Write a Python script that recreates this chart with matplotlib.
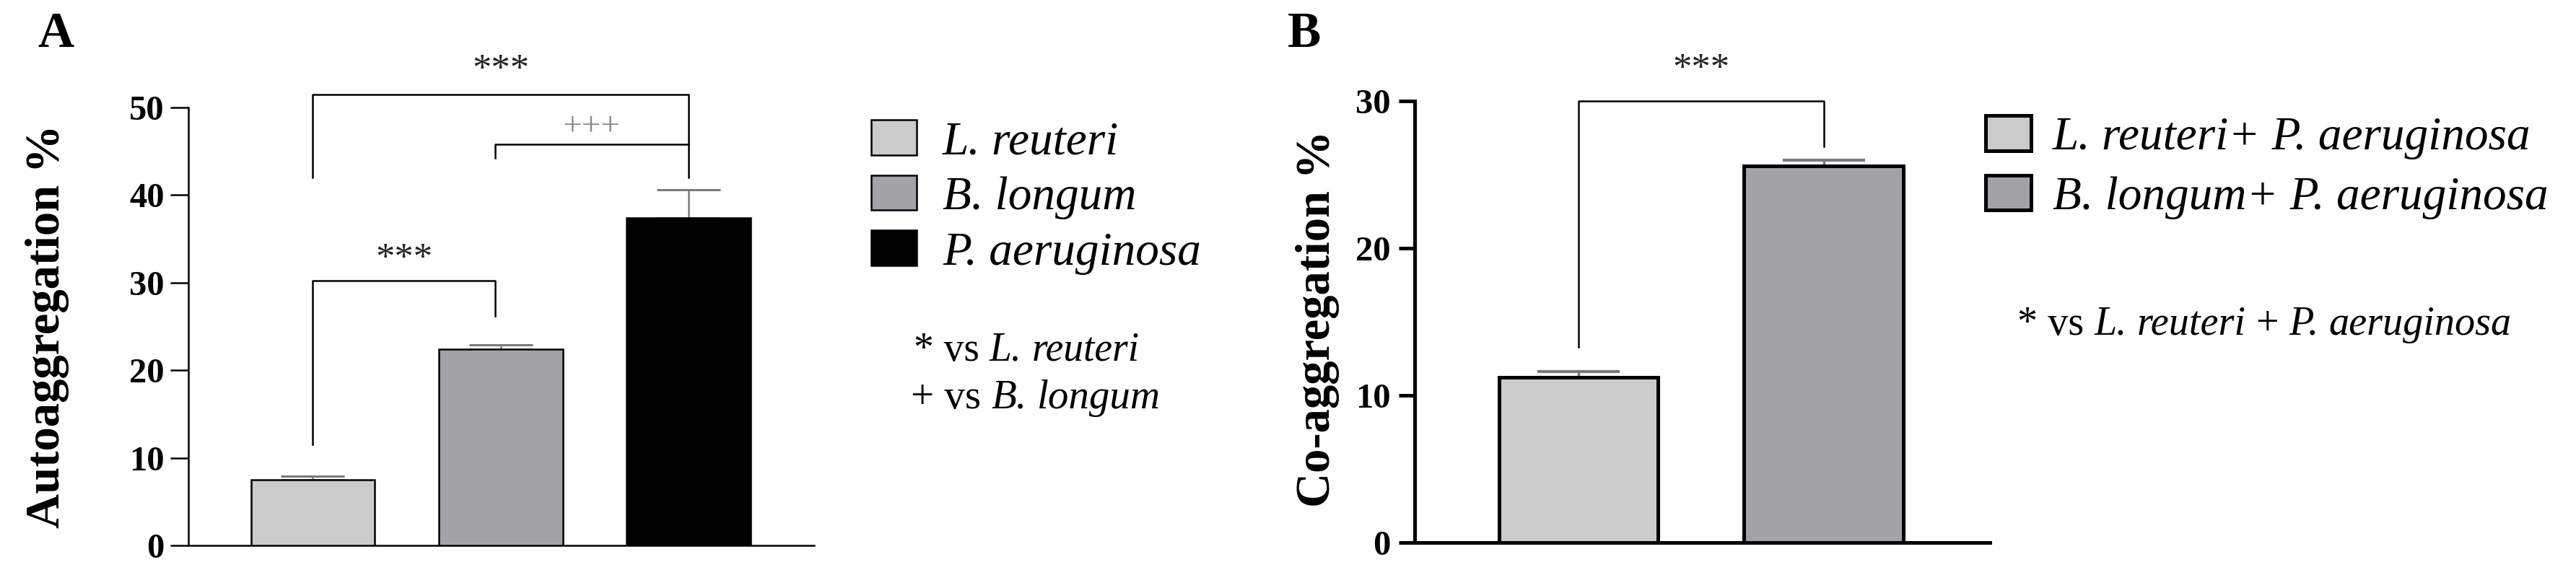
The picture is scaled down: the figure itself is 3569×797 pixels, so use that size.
import matplotlib
matplotlib.use('Agg')
import matplotlib.pyplot as plt
from matplotlib.offsetbox import TextArea, HPacker, AnchoredOffsetbox
import numpy as np

plt.rcParams['font.family'] = ['Liberation Serif', 'DejaVu Serif']

# panel A: autoaggregation
auto_labels = ["L. reuteri", "B. longum", "P. aeruginosa"]
auto_mean = [7.5, 22.4, 37.4]
auto_err = [0.4, 0.5, 3.2]
auto_colors = ["#cbcbcb", "#a3a2a7", "#000000"]

# panel B: co-aggregation
coag_labels = ["L. reuteri+ P. aeruginosa", "B. longum+ P. aeruginosa"]
coag_mean = [11.2, 25.6]
coag_err = [0.4, 0.4]
coag_colors = ["#cbcbcb", "#a3a2a7"]

# significance footnotes: (text, italic)
noteA1 = [("* vs", False), ("L.", True), ("reuteri", True)]
noteA2 = [("+ vs", False), ("B.", True), ("longum", True)]
noteB = [("* vs", False), ("L.", True), ("reuteri", True), ("+", False), ("P.", True), ("aeruginosa", True)]

W, H = 3569, 797
fig = plt.figure(figsize=(W / 100, H / 100), dpi=100)

def bracket(ax, x1, x2, y, y1, y2, text, tcolor, ty, lw, fs):
	ax.plot([x1, x1, x2, x2], [y1, y, y, y2], color="black", lw=lw, clip_on=False, zorder=4)
	ax.text((x1 + x2) / 2, ty, text, ha="center", va="center", fontsize=fs, color=tcolor, clip_on=False)

def mixed_text(x, y_bottom, pieces, size):
	boxes = [TextArea(s, textprops=dict(fontsize=size, fontstyle="italic" if it else "normal")) for s, it in pieces]
	pack = HPacker(children=boxes, align="baseline", pad=0, sep=size * 0.25)
	box = AnchoredOffsetbox(loc="lower left", child=pack, pad=0, borderpad=0, frameon=False,
		bbox_to_anchor=(x / W, 1 - y_bottom / H), bbox_transform=fig.transFigure)
	fig.add_artist(box)

# ---------------- A ----------------
axA = fig.add_axes([0.0731, 0.0514, 0.2430, 0.7616])
xA = np.arange(len(auto_mean))
barsA = axA.bar(xA, auto_mean, width=0.66, color=auto_colors, edgecolor="black", linewidth=1.8, zorder=3)
axA.errorbar(xA, auto_mean, yerr=[np.zeros(len(auto_err)), auto_err], fmt="none",
	ecolor="#7a7a7a", elinewidth=1.8, capsize=32, capthick=2.2, zorder=2)
axA.set_xlim(-0.663, 2.669)
axA.set_ylim(0, 50)
axA.set_yticks([0, 10, 20, 30, 40, 50])
axA.set_xticks([])
for s in ["top", "right"]:
	axA.spines[s].set_visible(False)
for s in ["left", "bottom"]:
	axA.spines[s].set_linewidth(1.8)
axA.tick_params(axis="y", length=18, width=1.8, pad=6, labelsize=35)
for t in axA.get_yticklabels():
	t.set_fontweight("bold")

bracket(axA, 0, 2, 51.5, 42.0, 42.0, "***", "#222222", 54.2, 1.8, 38)
bracket(axA, 0.97, 2, 45.8, 44.2, 45.8, "+++", "#888888", 47.8, 1.8, 34)
bracket(axA, 0, 0.97, 30.2, 11.5, 26.2, "***", "#222222", 32.6, 1.8, 38)

fig.text(66 / W, 1 - 452 / H, "Autoaggregation %", rotation=90, ha="center", va="center",
	fontsize=48, fontweight="bold")
fig.text(77 / W, 1 - 48 / H, "A", ha="center", va="center", fontsize=50, fontweight="bold")

axA.legend(barsA, auto_labels, loc="upper left", bbox_to_anchor=(1207 / W, 1 - 166 / H),
	bbox_transform=fig.transFigure, frameon=False, prop={"style": "italic", "size": 47},
	handlelength=0.97, handleheight=0.77, handletextpad=0.55, labelspacing=0.24, borderpad=0, borderaxespad=0)

mixed_text(1266, 512, noteA1, 40)
mixed_text(1262, 578, noteA2, 41)

# ---------------- B ----------------
axB = fig.add_axes([0.5492, 0.0565, 0.2233, 0.7679])
xB = np.arange(len(coag_mean))
barsB = axB.bar(xB, coag_mean, width=0.65, color=coag_colors, edgecolor="black", linewidth=3.6, zorder=3)
axB.errorbar(xB, coag_mean, yerr=[np.zeros(len(coag_err)), coag_err], fmt="none",
	ecolor="#7a7a7a", elinewidth=2.5, capsize=41, capthick=3.0, zorder=2)
axB.set_xlim(-0.669, 1.679)
axB.set_ylim(0, 30)
axB.set_yticks([0, 10, 20, 30])
axB.set_xticks([])
for s in ["top", "right"]:
	axB.spines[s].set_visible(False)
for s in ["left", "bottom"]:
	axB.spines[s].set_linewidth(3.6)
axB.tick_params(axis="y", length=16, width=3.6, pad=8, labelsize=35)
for t in axB.get_yticklabels():
	t.set_fontweight("bold")

bracket(axB, 0, 1, 30.0, 13.3, 26.9, "***", "#222222", 32.1, 1.8, 38)

fig.text(1826 / W, 1 - 442 / H, "Co-aggregation %", rotation=90, ha="center", va="center",
	fontsize=48, fontweight="bold")
fig.text(1807 / W, 1 - 48 / H, "B", ha="center", va="center", fontsize=50, fontweight="bold")

axB.legend(barsB, coag_labels, loc="upper left", bbox_to_anchor=(2751 / W, 1 - 160 / H),
	bbox_transform=fig.transFigure, frameon=False, prop={"style": "italic", "size": 47},
	handlelength=0.97, handleheight=0.77, handletextpad=0.45, labelspacing=0.33, borderpad=0, borderaxespad=0)

mixed_text(2795, 476, noteB, 40.5)

fig.savefig("out.png", dpi=100)
